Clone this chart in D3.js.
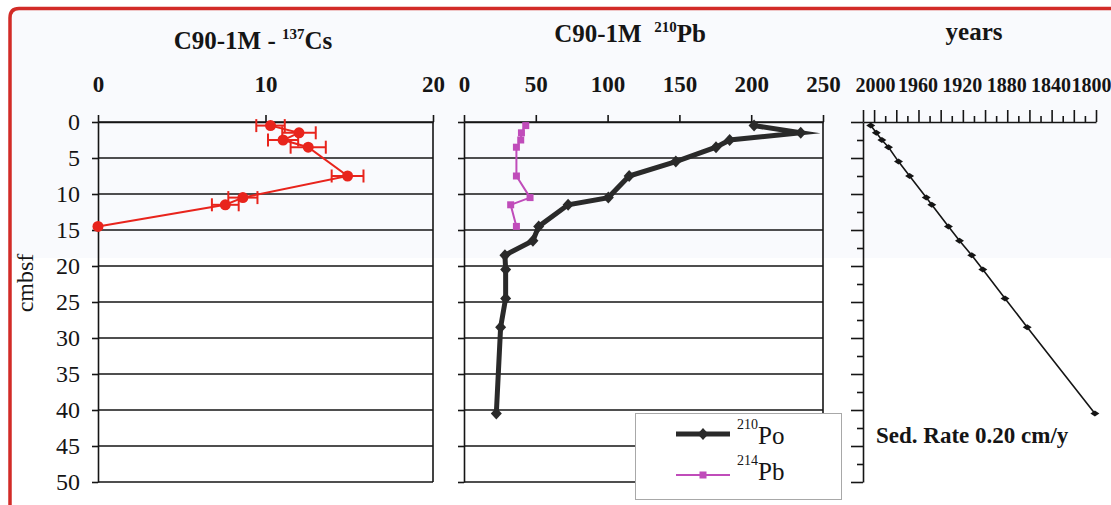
<!DOCTYPE html>
<html>
<head>
<meta charset="utf-8">
<script src="https://cdn.jsdelivr.net/npm/d3@7"></script>
<style>
  html, body { margin: 0; padding: 0; background: #fff; }
  svg { display: block; font-family: "Liberation Serif", "Times New Roman", serif; }
  text { white-space: pre; }
</style>
</head>
<body>
<svg id="chart" width="1111" height="505"></svg>
<script>
// Depth axis shared by all three profiles (cm below sea floor)
const depthTicks = [0, 5, 10, 15, 20, 25, 30, 35, 40, 45, 50];
const depthMinorTicks = [0, 2.5, 5, 7.5, 10, 12.5, 15, 17.5, 20, 22.5, 25, 27.5, 30, 32.5, 35, 37.5, 40, 42.5, 45, 47.5, 50];

// 137Cs activity profile with counting errors
const csTicks = [0, 10, 20];
const csDepth = [0.5, 1.5, 2.5, 3.5, 7.5, 10.5, 11.5, 14.5];
const csValue = [10.3, 12.0, 11.05, 12.55, 14.9, 8.65, 7.6, 0];
const csError = [0.85, 1.0, 0.9, 1.05, 0.95, 0.87, 0.8, 0];

// 210Pb (as 210Po) and supported 214Pb activity
const pbTicks = [0, 50, 100, 150, 200, 250];
const poDepth = [0.5, 1.5, 2.5, 3.5, 5.5, 7.5, 10.5, 11.5, 14.5, 16.5, 18.5, 20.5, 24.5, 28.5, 40.5];
const poValue = [202, 234.5, 185, 175.5, 147.5, 115, 100.5, 72.5, 52, 48, 28.5, 29, 29, 25.5, 22.5];
const pb214Depth = [0.5, 1.5, 2.5, 3.5, 7.5, 10.5, 11.5, 14.5];
const pb214Value = [43, 40, 39.5, 36.5, 36.5, 46, 32.5, 36.5];

// Age model (calendar years)
const yearLabels = [2000, 1960, 1920, 1880, 1840, 1800];
const yearTicks = [2010, 2000, 1990, 1980, 1970, 1960, 1950, 1940, 1930, 1920, 1910, 1900, 1890, 1880, 1870, 1860, 1850, 1840, 1830, 1820, 1810, 1800];
const ageDepth = [0.5, 1.5, 2.5, 3.5, 5.5, 7.5, 10.5, 11.5, 14.5, 16.5, 18.5, 20.5, 24.5, 28.5, 40.5];
const ageYear = [2003, 1998, 1993, 1987, 1978, 1968, 1953, 1948, 1933, 1923, 1912, 1902, 1882, 1862, 1801];

const svg = d3.select("#chart");
const INK = "#151515";

// light panel tint and red frame
svg.append("rect").attr("x", 11).attr("y", 10).attr("width", 1100).attr("height", 248).attr("fill", "#f9fafd");
svg.append("path")
  .attr("d", "M10,505 L10,18 Q10,8.5 19,8.5 L1111,8.5")
  .attr("fill", "none").attr("stroke", "#d22b27").attr("stroke-width", 3.5);

const y = d3.scaleLinear().domain([0, 50]).range([122, 482]);
const xCs = d3.scaleLinear().domain([0, 20]).range([98, 433]);
const xPb = d3.scaleLinear().domain([0, 250]).range([464, 823]);
const xAge = d3.scaleLinear().domain([2010, 1800]).range([863, 1096]);

function styleAxis(g, size, bold) {
  g.selectAll("path.domain").attr("stroke", INK).attr("stroke-width", 1.6);
  g.selectAll(".tick line").attr("stroke", INK).attr("stroke-width", 1.6);
  g.selectAll(".tick text").attr("fill", INK)
    .attr("font-family", "Liberation Serif, Times New Roman, serif")
    .attr("font-size", size).attr("font-weight", bold ? "bold" : "normal");
}

function gridPanel(x) {
  const [x0, x1] = x.range();
  svg.append("g").selectAll("line").data(depthTicks).join("line")
    .attr("x1", x0).attr("x2", x1)
    .attr("y1", d => y(d)).attr("y2", d => y(d))
    .attr("stroke", INK).attr("stroke-width", 1.6);
  svg.append("line").attr("x1", x1).attr("x2", x1).attr("y1", y(0)).attr("y2", y(50))
    .attr("stroke", INK).attr("stroke-width", 1.6);
}

// ---------- Panel 1: 137Cs ----------
gridPanel(xCs);
svg.append("g").attr("transform", `translate(0,${y(0)})`)
  .call(d3.axisTop(xCs).tickValues(csTicks).tickSize(7).tickSizeOuter(0).tickPadding(23))
  .call(g => styleAxis(g, 23, true));
svg.append("g").attr("transform", `translate(${xCs(0)},0)`)
  .call(d3.axisLeft(y).tickValues(depthTicks).tickSize(6).tickSizeOuter(0).tickPadding(12))
  .call(g => styleAxis(g, 24, false));

const CS_RED = "#e8241c";
const cs = csDepth.map((d, i) => ({ d, v: csValue[i], e: csError[i] }));
svg.append("path").datum(cs)
  .attr("d", d3.line().x(p => xCs(p.v)).y(p => y(p.d)))
  .attr("fill", "none").attr("stroke", CS_RED).attr("stroke-width", 2);
const eb = svg.append("g").attr("stroke", CS_RED).attr("stroke-width", 2)
  .selectAll("g").data(cs.filter(p => p.e > 0)).join("g");
eb.append("line").attr("x1", p => xCs(p.v - p.e)).attr("x2", p => xCs(p.v + p.e))
  .attr("y1", p => y(p.d)).attr("y2", p => y(p.d));
eb.append("line").attr("x1", p => xCs(p.v - p.e)).attr("x2", p => xCs(p.v - p.e))
  .attr("y1", p => y(p.d) - 6.5).attr("y2", p => y(p.d) + 6.5);
eb.append("line").attr("x1", p => xCs(p.v + p.e)).attr("x2", p => xCs(p.v + p.e))
  .attr("y1", p => y(p.d) - 6.5).attr("y2", p => y(p.d) + 6.5);
svg.append("g").selectAll("circle").data(cs).join("circle")
  .attr("cx", p => xCs(p.v)).attr("cy", p => y(p.d)).attr("r", 5.5).attr("fill", CS_RED);

// title and depth label
const t1 = svg.append("text").attr("x", 253).attr("y", 49).attr("text-anchor", "middle")
  .attr("font-weight", "bold").attr("font-size", 25).attr("fill", INK);
t1.append("tspan").text("C90-1M - ");
t1.append("tspan").attr("font-size", 15).attr("dy", -10).text("137");
t1.append("tspan").attr("dy", 10).text("Cs");

svg.append("text").attr("transform", "translate(33,283) rotate(-90)")
  .attr("text-anchor", "middle").attr("font-size", 24).attr("fill", INK).text("cmbsf");

// ---------- Panel 2: 210Pb ----------
gridPanel(xPb);
svg.append("g").attr("transform", `translate(0,${y(0)})`)
  .call(d3.axisTop(xPb).tickValues(pbTicks).tickSize(7).tickSizeOuter(0).tickPadding(23))
  .call(g => styleAxis(g, 23, true));
svg.append("g").attr("transform", `translate(${xPb(0)},0)`)
  .call(d3.axisLeft(y).tickValues(depthTicks).tickSize(6).tickSizeOuter(0).tickFormat(""))
  .call(g => styleAxis(g, 24, false));

const diamond = (rx, ry) => `M0,${-ry}L${rx},0L0,${ry}L${-rx},0Z`;
const PO_INK = "#2a2a2a";
const PB_MAG = "#c04cba";

const pb = pb214Depth.map((d, i) => ({ d, v: pb214Value[i] }));
svg.append("path").datum(pb)
  .attr("d", d3.line().x(p => xPb(p.v)).y(p => y(p.d)))
  .attr("fill", "none").attr("stroke", PB_MAG).attr("stroke-width", 2);
svg.append("g").selectAll("rect").data(pb).join("rect")
  .attr("x", p => xPb(p.v) - 3.5).attr("y", p => y(p.d) - 3.5)
  .attr("width", 7).attr("height", 7).attr("fill", PB_MAG);

const po = poDepth.map((d, i) => ({ d, v: poValue[i] }));
svg.append("path").datum(po)
  .attr("d", d3.line().x(p => xPb(p.v)).y(p => y(p.d)))
  .attr("fill", "none").attr("stroke", PO_INK).attr("stroke-width", 5)
  .attr("stroke-linejoin", "miter").attr("stroke-miterlimit", 10);
svg.append("g").selectAll("path").data(po).join("path")
  .attr("transform", p => `translate(${xPb(p.v)},${y(p.d)})`)
  .attr("d", diamond(5.5, 6)).attr("fill", PO_INK);

const t2 = svg.append("text").attr("x", 630).attr("y", 42).attr("text-anchor", "middle")
  .attr("font-weight", "bold").attr("font-size", 25).attr("fill", INK);
t2.append("tspan").text("C90-1M  ");
t2.append("tspan").attr("font-size", 15).attr("dy", -10).text("210");
t2.append("tspan").attr("dy", 10).text("Pb");

// legend
const lg = svg.append("g");
lg.append("rect").attr("x", 635.5).attr("y", 413.5).attr("width", 206).attr("height", 86)
  .attr("fill", "#fff").attr("stroke", "#a8a8a8").attr("stroke-width", 1);
lg.append("line").attr("x1", 676).attr("x2", 730).attr("y1", 434).attr("y2", 434)
  .attr("stroke", PO_INK).attr("stroke-width", 5);
lg.append("path").attr("transform", "translate(703,434)").attr("d", diamond(5.5, 6)).attr("fill", PO_INK);
lg.append("line").attr("x1", 676).attr("x2", 730).attr("y1", 475).attr("y2", 475)
  .attr("stroke", PB_MAG).attr("stroke-width", 2);
lg.append("rect").attr("x", 699.5).attr("y", 471.5).attr("width", 7).attr("height", 7).attr("fill", PB_MAG);
const l1 = lg.append("text").attr("x", 737).attr("y", 444).attr("font-size", 25).attr("fill", INK);
l1.append("tspan").attr("font-size", 14).attr("dy", -15).text("210");
l1.append("tspan").attr("dy", 15).text("Po");
const l2 = lg.append("text").attr("x", 737).attr("y", 480).attr("font-size", 25).attr("fill", INK);
l2.append("tspan").attr("font-size", 14).attr("dy", -15).text("214");
l2.append("tspan").attr("dy", 15).text("Pb");

// ---------- Panel 3: age model ----------
svg.append("g").attr("transform", `translate(0,${y(0)})`)
  .call(d3.axisTop(xAge).tickValues(yearTicks).tickSize(6).tickSizeOuter(0).tickPadding(24)
    .tickFormat(d => yearLabels.includes(d) ? String(d) : ""))
  .call(g => styleAxis(g, 20, true))
  .call(g => g.selectAll(".tick line").filter(d => d % 20 === 0 || d === 2010).attr("y2", -12))
  .call(g => g.selectAll(".tick text").attr("y", -30).attr("dx", d => d === 1800 ? -5 : d === 2000 ? 1 : -1));
svg.append("g").attr("transform", `translate(${xAge(2010)},0)`)
  .call(d3.axisLeft(y).tickValues(depthMinorTicks).tickSize(6).tickSizeOuter(0).tickFormat(""))
  .call(g => styleAxis(g, 20, false))
  .call(g => g.selectAll(".tick line").filter(d => d % 5 === 0).attr("x2", -12));

const age = ageDepth.map((d, i) => ({ d, v: ageYear[i] }));
svg.append("path").datum(age)
  .attr("d", d3.line().x(p => xAge(p.v)).y(p => y(p.d)))
  .attr("fill", "none").attr("stroke", INK).attr("stroke-width", 1.6);
svg.append("g").selectAll("path").data(age).join("path")
  .attr("transform", p => `translate(${xAge(p.v)},${y(p.d)})`)
  .attr("d", diamond(4.5, 3)).attr("fill", INK);

svg.append("text").attr("x", 974).attr("y", 40).attr("text-anchor", "middle")
  .attr("font-weight", "bold").attr("font-size", 25).attr("fill", INK).text("years");
svg.append("text").attr("x", 876).attr("y", 443)
  .attr("font-weight", "bold").attr("font-size", 23).attr("fill", INK).text("Sed. Rate 0.20 cm/y");
</script>
</body>
</html>
